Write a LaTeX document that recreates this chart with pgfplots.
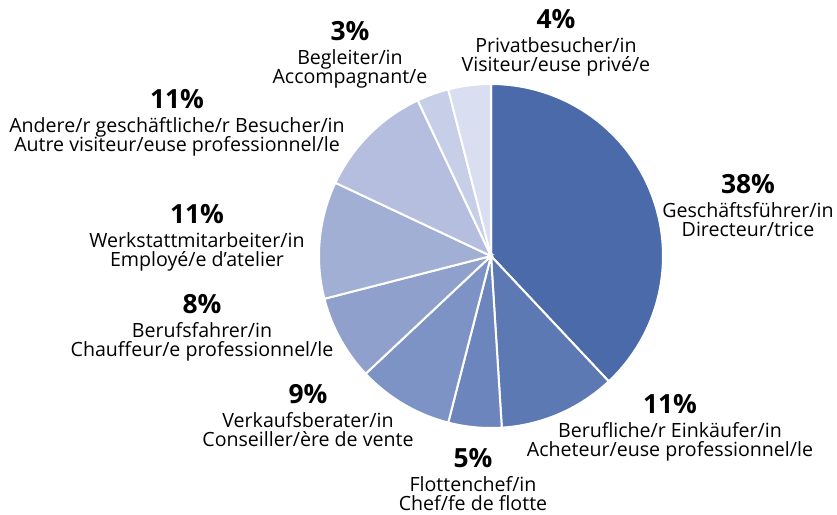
\documentclass[border=0pt]{standalone}
\usepackage{pgfplots}
\pgfplotsset{compat=1.18}
\usepackage{fontspec}
\setmainfont{Open Sans}
\definecolor{c1}{RGB}{74,106,170}
\definecolor{c2}{RGB}{92,121,180}
\definecolor{c3}{RGB}{108,134,189}
\definecolor{c4}{RGB}{126,147,197}
\definecolor{c5}{RGB}{143,160,205}
\definecolor{c6}{RGB}{162,175,213}
\definecolor{c7}{RGB}{181,190,222}
\definecolor{c8}{RGB}{199,206,231}
\definecolor{c9}{RGB}{217,222,240}
\newcommand\lab[5]{%
  \node[anchor=base,font=\fontsize{13.2}{13.2}\bfseries] at (axis cs:#1,#2) {#3};
  \node[anchor=base,font=\fontsize{9.8}{9.8}\selectfont,yshift=-12.25pt] at (axis cs:#1,#2) {#4};
  \node[anchor=base,font=\fontsize{9.8}{9.8}\selectfont,yshift=-21.75pt] at (axis cs:#1,#2) {#5};
}
\begin{document}
\begin{tikzpicture}
\begin{axis}[hide axis, scale only axis, width=418.5pt, height=257.5pt,
  xmin=0, xmax=837, ymin=0, ymax=515, y dir=reverse, clip=false]
% slices (percent): 38, 11, 5, 9, 8, 11, 11, 3, 4 ; angle = -90 + 3.6*cumulative
\addplot[fill=c1, draw=white, line width=1pt, domain=-90:46.8, samples=90, variable=\t] ({491+172*cos(t)},{256+172*sin(t)}) -- (axis cs:491,256) -- cycle;
\addplot[fill=c2, draw=white, line width=1pt, domain=46.8:86.4, samples=40, variable=\t] ({491+172*cos(t)},{256+172*sin(t)}) -- (axis cs:491,256) -- cycle;
\addplot[fill=c3, draw=white, line width=1pt, domain=86.4:104.4, samples=20, variable=\t] ({491+172*cos(t)},{256+172*sin(t)}) -- (axis cs:491,256) -- cycle;
\addplot[fill=c4, draw=white, line width=1pt, domain=104.4:136.8, samples=30, variable=\t] ({491+172*cos(t)},{256+172*sin(t)}) -- (axis cs:491,256) -- cycle;
\addplot[fill=c5, draw=white, line width=1pt, domain=136.8:165.6, samples=30, variable=\t] ({491+172*cos(t)},{256+172*sin(t)}) -- (axis cs:491,256) -- cycle;
\addplot[fill=c6, draw=white, line width=1pt, domain=165.6:205.2, samples=40, variable=\t] ({491+172*cos(t)},{256+172*sin(t)}) -- (axis cs:491,256) -- cycle;
\addplot[fill=c7, draw=white, line width=1pt, domain=205.2:244.8, samples=40, variable=\t] ({491+172*cos(t)},{256+172*sin(t)}) -- (axis cs:491,256) -- cycle;
\addplot[fill=c8, draw=white, line width=1pt, domain=244.8:255.6, samples=15, variable=\t] ({491+172*cos(t)},{256+172*sin(t)}) -- (axis cs:491,256) -- cycle;
\addplot[fill=c9, draw=white, line width=1pt, domain=255.6:270, samples=15, variable=\t] ({491+172*cos(t)},{256+172*sin(t)}) -- (axis cs:491,256) -- cycle;
\lab{748}{193}{38\%}{Geschäftsführer/in}{Directeur/trice}
\lab{670}{413}{11\%}{Berufliche/r Einkäufer/in}{Acheteur/euse professionnel/le}
\lab{473}{467}{5\%}{Flottenchef/in}{Chef/fe de flotte}
\lab{308}{403}{9\%}{Verkaufsberater/in}{Conseiller/ère de vente}
\lab{202}{313}{8\%}{Berufsfahrer/in}{Chauffeur/e professionnel/le}
\lab{197}{223}{11\%}{Werkstattmitarbeiter/in}{Employé/e d’atelier}
\lab{177}{108}{11\%}{Andere/r geschäftliche/r Besucher/in}{Autre visiteur/euse professionnel/le}
\lab{350}{40}{3\%}{Begleiter/in}{Accompagnant/e}
\lab{556}{28}{4\%}{Privatbesucher/in}{Visiteur/euse privé/e}
\coordinate (ll) at (axis cs:0,515);
\coordinate (ur) at (axis cs:837,0);
\end{axis}
\pgfresetboundingbox
\path (ll) rectangle (ur);
\end{tikzpicture}
\end{document}
